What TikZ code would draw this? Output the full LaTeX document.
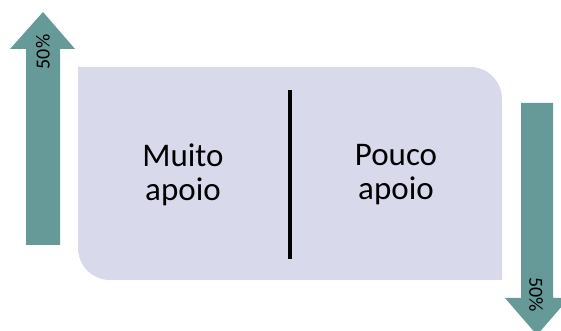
\documentclass[tikz,border=0pt]{standalone}
\usepackage{fontspec}
\setmainfont{Carlito}
\usepackage{tikz}
\definecolor{tealarrow}{RGB}{101,154,152}
\definecolor{lavbox}{RGB}{217,217,236}

\begin{document}
\begin{tikzpicture}[x=1pt,y=1pt,
	bigtext/.style={align=center,font=\fontsize{33}{34}\selectfont},
	pct/.style={font=\fontsize{20}{22}\selectfont,inner sep=0pt}]
	\clip (0,0) rectangle (561,331);
	\useasboundingbox (0,0) rectangle (561,331);
	\fill[white] (0,0) rectangle (561,331);
	% box with two rounded corners
	\fill[lavbox] (78,264) -- (470,264) arc[start angle=90,end angle=0,radius=32pt] -- (502,51) -- (110,51) arc[start angle=270,end angle=180,radius=32pt] -- cycle;
	\coordinate (divtop) at (290,241);
	\coordinate (divbot) at (290,72);
	\draw[line width=3.5pt] (divtop) -- (divbot);
	\node[bigtext] (muito) at (183,156) {Muito\\apoio};
	\node[bigtext] (pouco) at (396,156) {Pouco\\apoio};
	% arrow up
	\fill[tealarrow] (26,86) -- (26,282) -- (10,282) -- (43,319) -- (75,282) -- (60,282) -- (60,86) -- cycle;
	\node[pct,rotate=90] (upval) at (43,279) {50\%};
	% arrow down
	\fill[tealarrow] (521,228) -- (521,33) -- (505,33) -- (537,-4) -- (569,33) -- (553,33) -- (553,228) -- cycle;
	\node[pct,rotate=-90] (downval) at (536,36) {50\%};
\end{tikzpicture}
\end{document}
